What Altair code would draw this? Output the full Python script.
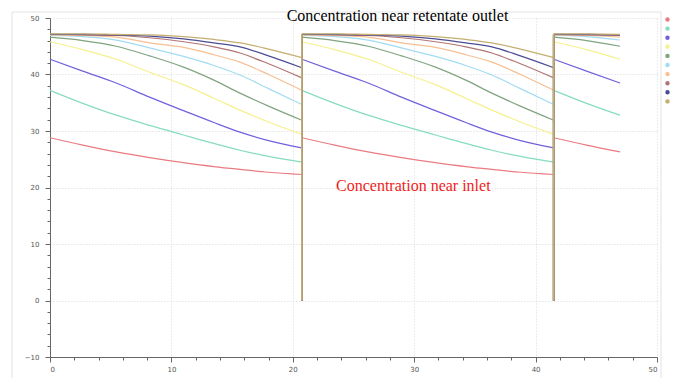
import altair as alt
import pandas as pd

# sample times within one filtration cycle
cycle_times = [0, 2.7, 5.45, 8.2, 11, 13.5, 15.65, 18, 20.75]
cycle_starts = [0, 20.75, 41.5]
t_end = 46.95

series_names = ["C1", "C2", "C3", "C4", "C5", "C6", "C7", "C8", "C9", "C10"]
series_colors = ["#ea7b80", "#86dcc0", "#6f62dc", "#f6f08e", "#7fa47f",
                 "#a2dcf2", "#f7bf92", "#b27474", "#4c4c94", "#c4ae70"]

c1 = [28.8, 27.5, 26.3, 25.3, 24.4, 23.7, 23.2, 22.7, 22.3]
c2 = [37.2, 34.9, 32.8, 31.0, 29.3, 27.8, 26.6, 25.5, 24.5]
c3 = [42.7, 40.6, 38.5, 36.0, 33.6, 31.5, 29.8, 28.3, 27.0]
c4 = [45.8, 44.4, 42.7, 40.4, 38.2, 35.8, 33.7, 31.6, 29.4]
c5 = [46.6, 46.0, 45.0, 43.3, 41.3, 39.0, 36.7, 34.4, 31.9]
c6 = [46.9, 46.7, 46.1, 44.7, 43.2, 41.6, 39.9, 37.5, 34.7]
c7 = [47.0, 46.9, 46.6, 45.6, 44.8, 43.5, 42.2, 40.0, 37.2]
c8 = [47.1, 47.0, 46.9, 46.5, 45.8, 44.9, 43.8, 41.9, 39.4]
c9 = [47.1, 47.1, 47.0, 46.8, 46.3, 45.6, 44.9, 43.3, 41.2]
c10 = [47.2, 47.2, 47.1, 47.0, 46.7, 46.2, 45.6, 44.5, 43.0]
values = [c1, c2, c3, c4, c5, c6, c7, c8, c9, c10]
drop_value = 0

rows = []
drops = []
for name, vals in zip(series_names, values):
    for ci, cs in enumerate(cycle_starts):
        for t, v in zip(cycle_times, vals):
            if cs + t <= t_end + 1e-9:
                rows.append({"series": name, "seg": f"{name}-{ci}", "t": cs + t, "c": v})
        if cs + cycle_times[-1] <= t_end:
            drops.append({"series": name, "t": cs + cycle_times[-1],
                          "lo": drop_value, "hi": max(vals[-1], vals[0])})
df = pd.DataFrame(rows)
df_drop = pd.DataFrame(drops)

x_ticks = list(range(0, 51, 2))
y_ticks = list(range(-10, 51, 2))

major = "datum.value % 10 === 0"

x_axis = alt.Axis(
    values=x_ticks,
    labelExpr="datum.value % 10 === 0 ? datum.label : ''",
    tickSize={"condition": {"test": major, "value": 5}, "value": 3},
    gridOpacity={"condition": {"test": major, "value": 1}, "value": 0},
    title=None, labelFontSize=7, labelColor="#555", labelFont="DejaVu Sans",
    domainColor="#666", tickColor="#666", gridColor="#d8d8d8", gridDash=[1, 2],
    labelPadding=3,
)
y_axis = alt.Axis(
    values=y_ticks,
    labelExpr="datum.value % 10 === 0 ? datum.label : ''",
    tickSize={"condition": {"test": major, "value": 5}, "value": 3},
    gridOpacity={"condition": {"test": major, "value": 1}, "value": 0},
    title=None, labelFontSize=7, labelColor="#555", labelFont="DejaVu Sans",
    domainColor="#666", tickColor="#666", gridColor="#d8d8d8", gridDash=[1, 2],
    labelPadding=6,
)

x_scale = alt.Scale(domain=[0, 50], nice=False, zero=False)
y_scale = alt.Scale(domain=[-10, 50], nice=False, zero=False)
color_scale = alt.Scale(domain=series_names, range=series_colors)

frame = alt.Chart(pd.DataFrame({"a": [0]})).mark_rect(
    fill=None, stroke="#e2e2e2", strokeWidth=1
).encode(x=alt.value(-38), x2=alt.value(611), y=alt.value(-6), y2=alt.value(362))

lines = alt.Chart(df).mark_line(strokeWidth=1.2, interpolate="monotone").encode(
    x=alt.X("t:Q", scale=x_scale, axis=x_axis),
    y=alt.Y("c:Q", scale=y_scale, axis=y_axis),
    color=alt.Color(
        "series:N",
        scale=color_scale,
        sort=series_names,
        legend=alt.Legend(
            title=None, orient="none", legendX=615, legendY=-1,
            symbolType="circle", symbolSize=5, symbolStrokeWidth=2.2,
            labelExpr="''", labelFontSize=1, rowPadding=-3.9, padding=0,
        ),
    ),
    detail="seg:N",
    order="t:Q",
)

drop_rules = alt.Chart(df_drop).mark_rule(strokeWidth=1.8).encode(
    x=alt.X("t:Q", scale=x_scale, axis=x_axis),
    y=alt.Y("lo:Q", scale=y_scale, axis=y_axis),
    y2="hi:Q",
    color=alt.Color("series:N", scale=color_scale, legend=None),
)

top_label = alt.Chart(pd.DataFrame({"txt": ["Concentration near retentate outlet"]})).mark_text(
    font="Liberation Serif", fontSize=16, color="#000", align="center", baseline="alphabetic"
).encode(text="txt:N", x=alt.value(347.5), y=alt.value(3))

inlet_label = alt.Chart(pd.DataFrame({"txt": ["Concentration near inlet"]})).mark_text(
    font="Liberation Serif", fontSize=16, color="#ee1c1c", align="left", baseline="alphabetic"
).encode(text="txt:N", x=alt.value(286), y=alt.value(173))

chart = alt.layer(frame, lines, drop_rules, top_label, inlet_label).properties(
    width=607, height=339,
    autosize=alt.AutoSizeParams(type="none"),
    padding={"left": 50, "top": 18, "right": 25, "bottom": 21},
    background="white",
).configure_view(strokeWidth=0)

chart.save("out.html", embed_options={"renderer": "svg", "actions": False})
